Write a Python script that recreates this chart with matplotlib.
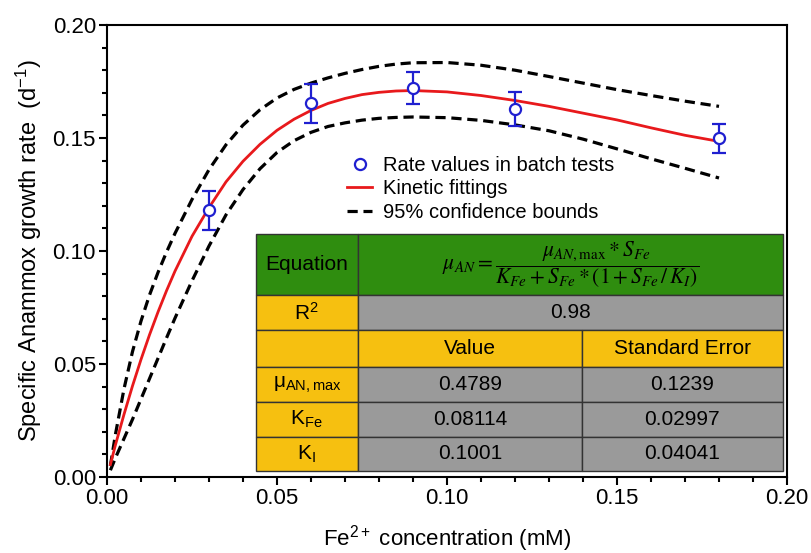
import numpy as np
import matplotlib
matplotlib.use('Agg')
from matplotlib import pyplot as plt
from matplotlib.patches import Rectangle
from matplotlib.lines import Line2D
from matplotlib.ticker import MultipleLocator, FormatStrFormatter

plt.rcParams['font.family'] = ['Liberation Sans', 'DejaVu Sans']
plt.rcParams['mathtext.fontset'] = 'custom'
plt.rcParams['mathtext.rm'] = 'Liberation Sans'
plt.rcParams['mathtext.it'] = 'Liberation Sans:italic'
plt.rcParams['mathtext.bf'] = 'Liberation Sans:bold'

# batch test measurements
fe_conc = [0.03, 0.06, 0.09, 0.12, 0.18]
rate = [0.118, 0.1654, 0.1720, 0.1627, 0.1498]
rate_err = [0.0087, 0.0086, 0.0070, 0.0075, 0.0063]

# fitted curve and 95% bounds
fit_x = [0.001, 0.0025, 0.005, 0.0075, 0.01, 0.0125, 0.015, 0.0175, 0.02, 0.025,
         0.03, 0.035, 0.04, 0.045, 0.05, 0.055, 0.06, 0.065, 0.07, 0.075,
         0.08, 0.085, 0.09, 0.10, 0.11, 0.12, 0.13, 0.14, 0.15, 0.16,
         0.17, 0.18]
fit_y = [0.0055, 0.0143, 0.0277, 0.0403, 0.0520, 0.0629, 0.0730, 0.0824, 0.0911, 0.1065,
         0.1192, 0.1306, 0.1397, 0.1472, 0.1534, 0.1583, 0.1622, 0.1653, 0.1675, 0.1692,
         0.1702, 0.1708, 0.1710, 0.1704, 0.1688, 0.1666, 0.1640, 0.1610, 0.1580, 0.1545,
         0.1512, 0.1485]
upper_y = [0.005, 0.019, 0.039, 0.0555, 0.069, 0.0805, 0.0905, 0.0995, 0.1078, 0.1228,
           0.1360, 0.1470, 0.1557, 0.1625, 0.1677, 0.1715, 0.1743, 0.1766, 0.1786, 0.1803,
           0.1817, 0.1827, 0.1833, 0.1834, 0.1822, 0.1800, 0.1772, 0.1743, 0.1714, 0.1688,
           0.1663, 0.1640]
lower_y = [0.003, 0.0085, 0.0170, 0.0255, 0.0345, 0.0435, 0.0525, 0.0615, 0.0703, 0.0868,
           0.1022, 0.1160, 0.1272, 0.1364, 0.1436, 0.1488, 0.1525, 0.1551, 0.1567, 0.1579,
           0.1587, 0.1591, 0.1593, 0.1590, 0.1578, 0.1558, 0.1532, 0.1495, 0.1452, 0.1408,
           0.1366, 0.1323]

# parameter table
param_names = ['μ$_{\\rm AN,max}$', 'K$_{\\rm Fe}$', 'K$_{\\rm I}$']
param_values = ['0.4789', '0.08114', '0.1001']
param_errors = ['0.1239', '0.02997', '0.04041']
r_squared = '0.98'

green = '#2f8d0f'
yellow = '#f6c010'
gray = '#9a9a9a'
blue = '#1f1fd0'
red = '#e8191c'

fig = plt.figure(figsize=(8.11, 5.53), dpi=100)
ax = fig.add_axes([107/811, 76/553, 680/811, 452/553])

dash = (0, (3.2, 1.8))
ax.plot(fit_x, upper_y, color='black', lw=2.3, ls=dash)
ax.plot(fit_x, lower_y, color='black', lw=2.3, ls=dash)
ax.plot(fit_x, fit_y, color=red, lw=2)
ax.errorbar(fe_conc, rate, yerr=rate_err, fmt='o', color=blue, mfc='white',
            ms=8, mew=1.6, elinewidth=1.6, capsize=5, capthick=1.6, zorder=5)

ax.set_xlim(0, 0.20)
ax.set_ylim(0, 0.20)
ax.xaxis.set_major_locator(MultipleLocator(0.05))
ax.xaxis.set_minor_locator(MultipleLocator(0.01))
ax.yaxis.set_major_locator(MultipleLocator(0.05))
ax.yaxis.set_minor_locator(MultipleLocator(0.01))
ax.xaxis.set_major_formatter(FormatStrFormatter('%.2f'))
ax.yaxis.set_major_formatter(FormatStrFormatter('%.2f'))
ax.tick_params(which='both', direction='out', width=1.5, labelsize=16)
ax.tick_params(which='major', length=6, pad=2)
ax.tick_params(which='minor', length=3.5)
for s in ax.spines.values():
    s.set_linewidth(1.5)

ax.set_xlabel('Fe$^{2+}$ concentration (mM)', fontsize=16, labelpad=10)
ax.set_ylabel('Specific Anammox growth rate  (d$^{-1}$)', fontsize=17, labelpad=6)

handles = [
    Line2D([], [], ls='none', marker='o', color=blue, mfc='white', ms=8, mew=1.6),
    Line2D([], [], color=red, lw=2),
    Line2D([], [], color='black', lw=2.3, ls=dash),
]
labels = ['Rate values in batch tests', 'Kinetic fittings', '95% confidence bounds']
ax.legend(handles, labels, loc='upper left', bbox_to_anchor=(0.341, 0.728),
          frameon=False, fontsize=14.5, handlelength=1.25, handletextpad=0.55,
          labelspacing=0.22, borderaxespad=0)

# table drawn in axes fraction coordinates
cols = [0.219, 0.3685, 0.6985, 0.9935]
rows = [0.5376, 0.4027, 0.3252, 0.2434, 0.1659, 0.0885, 0.0133]
tr = ax.transAxes


def cell(x0, x1, y0, y1, color, text='', **kw):
    ax.add_patch(Rectangle((x0, y1), x1 - x0, y0 - y1, transform=tr,
                           facecolor=color, edgecolor='#333333', lw=1, zorder=6))
    if text:
        ax.text((x0 + x1) / 2, (y0 + y1) / 2, text, transform=tr, ha='center',
                va='center', zorder=7, **kw)


fs = 15
cell(cols[0], cols[1], rows[0], rows[1], green, 'Equation', fontsize=fs)
cell(cols[1], cols[3], rows[0], rows[1], green,
     r'$\mu_{AN} = \dfrac{\mu_{AN,\mathrm{max}} * S_{Fe}}{K_{Fe} + S_{Fe} * (1 + S_{Fe}\,/\,K_I)}$',
     fontsize=15.5, math_fontfamily='stix')
cell(cols[0], cols[1], rows[1], rows[2], yellow, 'R$^2$', fontsize=fs)
cell(cols[1], cols[3], rows[1], rows[2], gray, r_squared, fontsize=fs)
cell(cols[0], cols[1], rows[2], rows[3], yellow)
cell(cols[1], cols[2], rows[2], rows[3], yellow, 'Value', fontsize=fs)
cell(cols[2], cols[3], rows[2], rows[3], yellow, 'Standard Error', fontsize=fs)
for i in range(len(param_names)):
    y0, y1 = rows[3 + i], rows[4 + i]
    cell(cols[0], cols[1], y0, y1, yellow, param_names[i], fontsize=fs)
    cell(cols[1], cols[2], y0, y1, gray, param_values[i], fontsize=fs)
    cell(cols[2], cols[3], y0, y1, gray, param_errors[i], fontsize=fs)

fig.savefig('out.png', dpi=100)
